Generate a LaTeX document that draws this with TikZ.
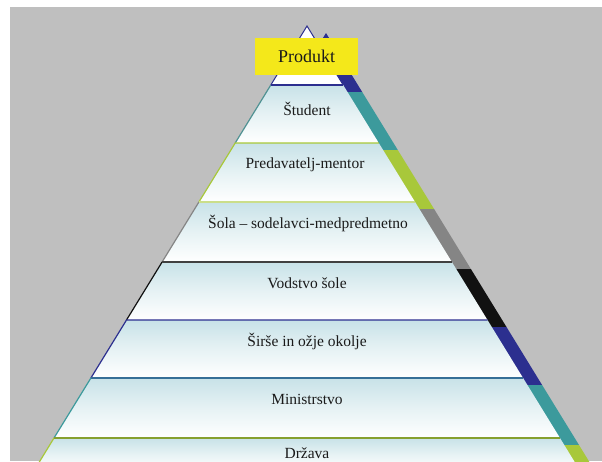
\documentclass[tikz,border=0pt]{standalone}
\usepackage{fontspec}
\setmainfont{Liberation Serif}
\definecolor{bg}{HTML}{BFBFBF}
\definecolor{cblue}{HTML}{2C2F8F}
\definecolor{cteal}{HTML}{3C9A9C}
\definecolor{cgreen}{HTML}{A8C83A}
\definecolor{cgray}{HTML}{858585}
\definecolor{cblack}{HTML}{111111}
\definecolor{ltop}{HTML}{C8E2E8}
\definecolor{lmid}{HTML}{E6F2F4}
\definecolor{txt}{HTML}{1A1A1A}
\definecolor{prod}{HTML}{F4E81A}
\begin{document}
\begin{tikzpicture}[x=1pt,y=-1pt,
  bk/.style={shift={(19,7)}},
  lay/.style={top color=ltop, bottom color=white, middle color=lmid},
  edge/.style={line width=1.2pt},
  lbl/.style={font=\fontsize{15.5}{17}\selectfont, text=txt, inner sep=0pt}]
\clip (0,0) rectangle (602,461);
\fill[white] (0,0) rectangle (602,461);
\fill[bg] (10,7) rectangle (602,461);
% pyramid corner coordinates
\coordinate (a)  at (307,26);
\coordinate (l1) at (270.8,85);  \coordinate (r1) at (343.2,85);
\coordinate (l2) at (235.2,143); \coordinate (r2) at (378.8,143);
\coordinate (l3) at (198.9,202); \coordinate (r3) at (415.1,202);
\coordinate (l4) at (162.1,262); \coordinate (r4) at (451.9,262);
\coordinate (l5) at (126.5,320); \coordinate (r5) at (487.5,320);
\coordinate (l6) at (90.9,378);  \coordinate (r6) at (523.1,378);
\coordinate (l7) at (54.0,438);  \coordinate (r7) at (560.0,438);
\coordinate (l8) at (34.4,470);  \coordinate (r8) at (579.6,470);
% coloured back pyramid (side strip)
\fill[cblue]  ([bk]a) -- ([bk]r1) -- ([bk]l1) -- cycle;
\fill[cteal]  ([bk]l1) -- ([bk]r1) -- ([bk]r2) -- ([bk]l2) -- cycle;
\fill[cgreen] ([bk]l2) -- ([bk]r2) -- ([bk]r3) -- ([bk]l3) -- cycle;
\fill[cgray]  ([bk]l3) -- ([bk]r3) -- ([bk]r4) -- ([bk]l4) -- cycle;
\fill[cblack] ([bk]l4) -- ([bk]r4) -- ([bk]r5) -- ([bk]l5) -- cycle;
\fill[cblue]  ([bk]l5) -- ([bk]r5) -- ([bk]r6) -- ([bk]l6) -- cycle;
\fill[cteal]  ([bk]l6) -- ([bk]r6) -- ([bk]r7) -- ([bk]l7) -- cycle;
\fill[cgreen] ([bk]l7) -- ([bk]r7) -- ([bk]r8) -- ([bk]l8) -- cycle;
% front layers
\fill[white] (a) -- (r1) -- (l1) -- cycle;
\draw[cblue, line width=1pt] (l1) -- (a) -- (r1);
\shade[lay] (l1) -- (r1) -- (r2) -- (l2) -- cycle;
\shade[lay] (l2) -- (r2) -- (r3) -- (l3) -- cycle;
\shade[lay] (l3) -- (r3) -- (r4) -- (l4) -- cycle;
\shade[lay] (l4) -- (r4) -- (r5) -- (l5) -- cycle;
\shade[lay] (l5) -- (r5) -- (r6) -- (l6) -- cycle;
\shade[lay] (l6) -- (r6) -- (r7) -- (l7) -- cycle;
\shade[lay] (l7) -- (r7) -- (r8) -- (l8) -- cycle;
% layer edges
\draw[edge, color=cteal!70!gray] (l2) -- (l1);
\draw[edge, cblue] (l1) -- (r1);
\draw[edge, cgreen] (l3) -- (l2) -- (r2);
\draw[edge, cgray] (l4) -- (l3);
\draw[edge, color=cgreen!60!white] (l3) -- (r3);
\draw[edge, cblack] (l5) -- (l4);
\draw[edge, color=black!75] (l4) -- (r4);
\draw[edge, cblue] (l6) -- (l5) -- (r5);
\draw[edge, cteal] (l7) -- (l6);
\draw[edge, color=cblue!40!cteal] (l6) -- (r6);
\draw[edge, cgreen] (l8) -- (l7);
\draw[edge, color=cgreen!80!black] (l7) -- (r7);
% labels
\node[fill=prod, minimum width=103pt, minimum height=37pt, inner sep=0pt,
      font=\fontsize{18}{20}\selectfont, text=txt] (produkt) at (306.5,56.5) {Produkt};
\node[lbl] (student) at (307,109) {Študent};
\node[lbl] (mentor) at (305,165) {Predavatelj-mentor};
\node[lbl] (sola) at (308,223) {Šola – sodelavci-medpredmetno};
\node[lbl] (vodstvo) at (307,283) {Vodstvo šole};
\node[lbl] (okolje) at (307,341) {Širše in ožje okolje};
\node[lbl] (ministrstvo) at (307,399) {Ministrstvo};
\node[lbl] (drzava) at (307,453) {Država};
\end{tikzpicture}
\end{document}
